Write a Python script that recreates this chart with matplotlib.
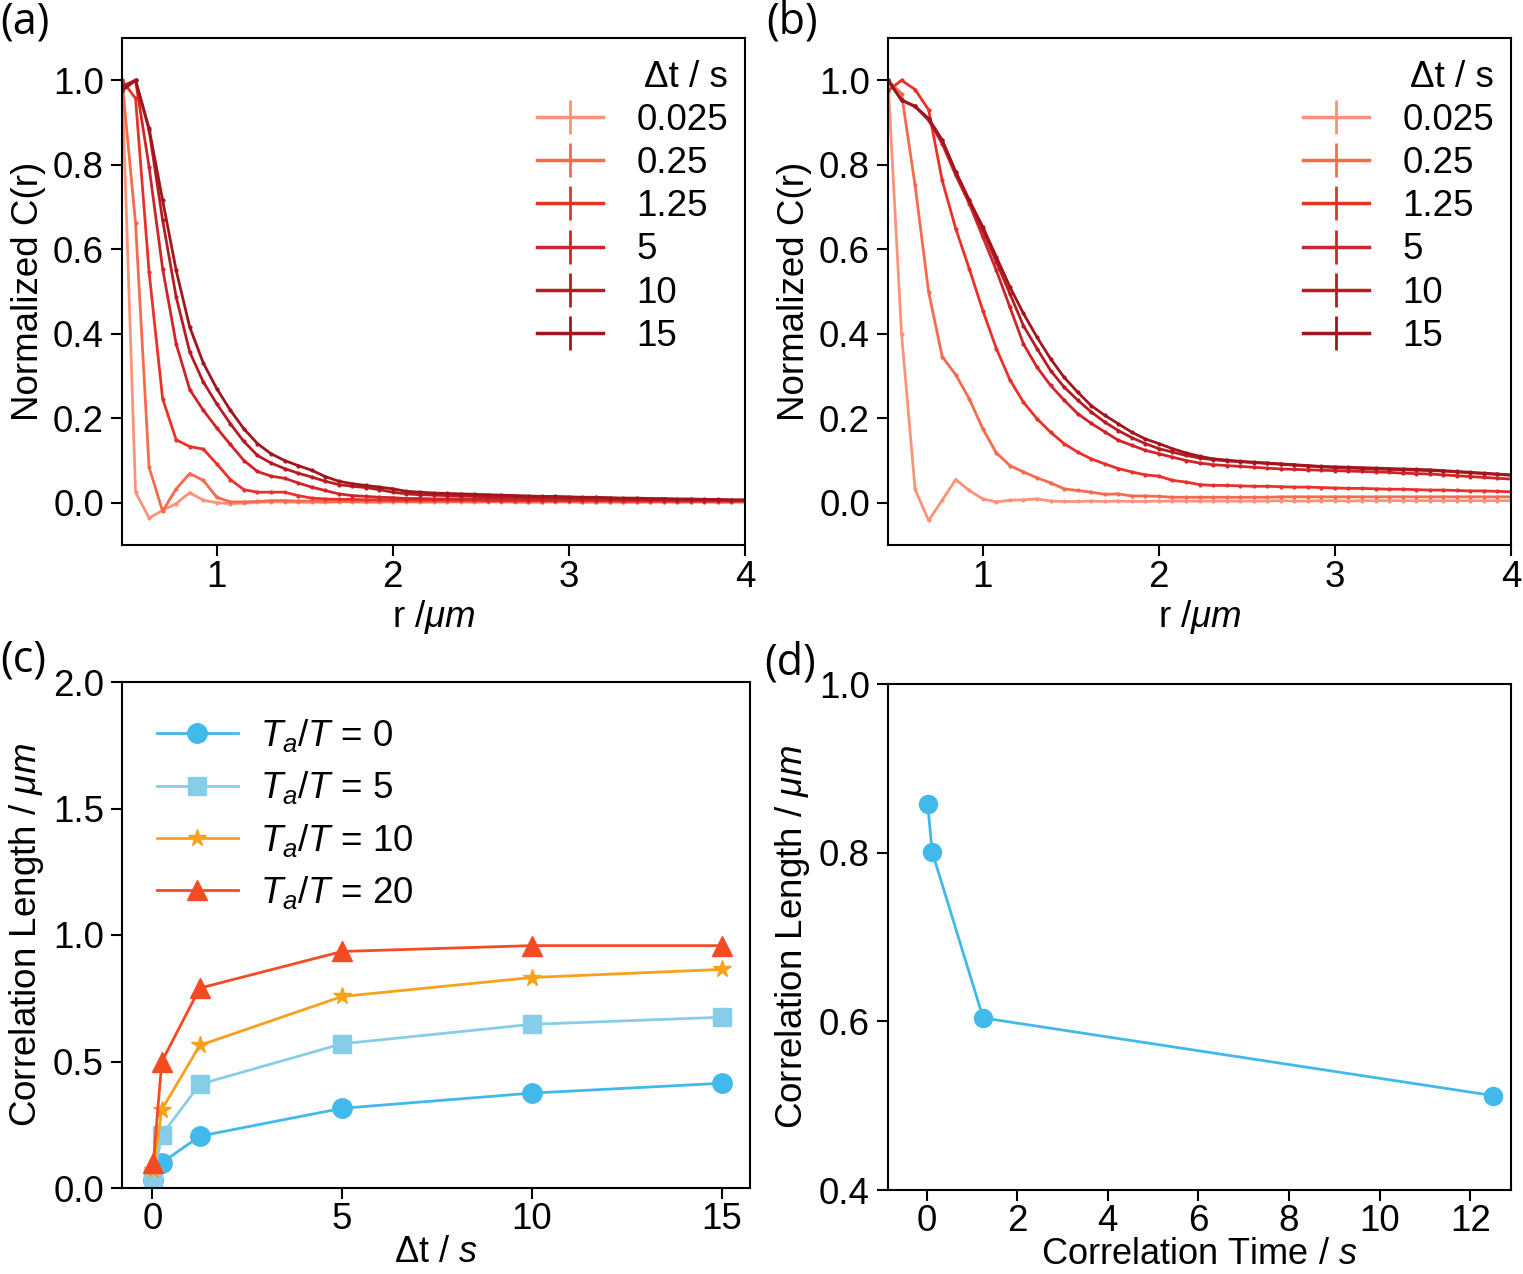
import numpy as np
import matplotlib
matplotlib.use("Agg")
import matplotlib.pyplot as plt
from matplotlib.lines import Line2D

plt.rcParams['font.family'] = ['Liberation Sans', 'DejaVu Sans']
plt.rcParams['mathtext.fontset'] = 'custom'
plt.rcParams['mathtext.rm'] = 'Liberation Sans'
plt.rcParams['mathtext.it'] = 'Liberation Sans:italic'
plt.rcParams['mathtext.bf'] = 'Liberation Sans:bold'
FS = 26.5
plt.rcParams['font.size'] = FS

# ---------------- data ----------------
r_um = np.arange(6, 53) / 13.0          # radial bins (µm)
dt_labels = ['0.025', '0.25', '1.25', '5', '10', '15']
dt_colors = ['#fa9479', '#f66a4e', '#ea3128', '#d0242a', '#b81c22', '#9f161c']

a_0025 = [1.0, 0.025, -0.036, -0.018, -0.002, 0.024, 0.006, 0.0, -0.002, -0.001, 0.001, 0.002,
          0.002, 0.001, 0.001, 0.001, 0.002, 0.002, 0.001, 0.001, 0.002, 0.002, 0.001, 0.001,
          0.002, 0.002, 0.001, 0.002, 0.002, 0.001, 0.001, 0.002, 0.002, 0.002, 0.001, 0.002,
          0.002, 0.001, 0.001, 0.002, 0.002, 0.001, 0.002, 0.002, 0.001, 0.001, 0.002]
a_025 = [1.0, 0.662, 0.084, -0.02, 0.033, 0.069, 0.053, 0.013, 0.002, 0.002, 0.003, 0.005,
         0.005, 0.004, 0.004, 0.003, 0.003, 0.003, 0.003, 0.003, 0.003, 0.003, 0.003, 0.003,
         0.003, 0.003, 0.003, 0.003, 0.003, 0.003, 0.002, 0.002, 0.003, 0.003, 0.002, 0.002,
         0.002, 0.002, 0.002, 0.002, 0.002, 0.002, 0.002, 0.002, 0.002, 0.002, 0.002]
a_125 = [1.0, 0.957, 0.546, 0.246, 0.149, 0.133, 0.127, 0.092, 0.055, 0.031, 0.025, 0.025,
         0.025, 0.017, 0.011, 0.009, 0.008, 0.008, 0.007, 0.007, 0.006, 0.006, 0.006, 0.006,
         0.006, 0.006, 0.006, 0.005, 0.005, 0.005, 0.005, 0.005, 0.005, 0.005, 0.005, 0.005,
         0.005, 0.004, 0.004, 0.004, 0.004, 0.004, 0.004, 0.004, 0.004, 0.004, 0.004]
a_5 = [0.985, 1.0, 0.795, 0.554, 0.376, 0.268, 0.219, 0.177, 0.138, 0.100, 0.074, 0.063,
       0.058, 0.047, 0.037, 0.029, 0.021, 0.017, 0.015, 0.013, 0.012, 0.010, 0.010, 0.009,
       0.009, 0.009, 0.008, 0.008, 0.008, 0.008, 0.007, 0.007, 0.007, 0.007, 0.007, 0.006,
       0.006, 0.006, 0.006, 0.006, 0.005, 0.005, 0.005, 0.005, 0.005, 0.005, 0.005]
a_10 = [0.985, 1.0, 0.882, 0.669, 0.487, 0.357, 0.286, 0.234, 0.187, 0.145, 0.112, 0.094,
        0.081, 0.070, 0.061, 0.051, 0.043, 0.039, 0.036, 0.031, 0.025, 0.021, 0.019, 0.018,
        0.017, 0.016, 0.015, 0.014, 0.013, 0.013, 0.012, 0.012, 0.011, 0.011, 0.010, 0.010,
        0.009, 0.009, 0.008, 0.008, 0.008, 0.007, 0.007, 0.007, 0.006, 0.006, 0.006]
a_15 = [0.975, 1.0, 0.886, 0.716, 0.55, 0.416, 0.331, 0.27, 0.219, 0.175, 0.14, 0.116,
        0.1, 0.088, 0.077, 0.062, 0.051, 0.045, 0.041, 0.037, 0.033, 0.027, 0.025, 0.023,
        0.022, 0.021, 0.020, 0.019, 0.018, 0.017, 0.016, 0.015, 0.015, 0.014, 0.013, 0.013,
        0.012, 0.011, 0.011, 0.010, 0.010, 0.009, 0.009, 0.008, 0.008, 0.007, 0.007]

b_0025 = [1.0, 0.40, 0.032, -0.042, 0.006, 0.055, 0.029, 0.009, 0.002, 0.006, 0.007, 0.009,
          0.004, 0.003, 0.003, 0.004, 0.003, 0.004, 0.003, 0.003, 0.004, 0.004, 0.004, 0.004,
          0.004, 0.004, 0.004, 0.004, 0.004, 0.005, 0.004, 0.004, 0.005, 0.005, 0.004, 0.005,
          0.005, 0.005, 0.005, 0.005, 0.005, 0.005, 0.005, 0.005, 0.005, 0.005, 0.005]
b_025 = [1.0, 0.968, 0.751, 0.499, 0.346, 0.303, 0.246, 0.175, 0.118, 0.088, 0.073, 0.059,
         0.047, 0.033, 0.029, 0.025, 0.020, 0.021, 0.016, 0.016, 0.015, 0.013, 0.013, 0.013,
         0.013, 0.013, 0.013, 0.013, 0.013, 0.014, 0.014, 0.014, 0.014, 0.014, 0.014, 0.014,
         0.014, 0.014, 0.014, 0.014, 0.014, 0.014, 0.014, 0.014, 0.014, 0.014, 0.014]
b_125 = [0.975, 1.0, 0.978, 0.93, 0.763, 0.649, 0.554, 0.455, 0.365, 0.291, 0.238, 0.199,
         0.167, 0.14, 0.12, 0.104, 0.092, 0.081, 0.073, 0.066, 0.063, 0.053, 0.049, 0.043,
         0.041, 0.041, 0.040, 0.039, 0.039, 0.038, 0.037, 0.037, 0.036, 0.035, 0.034, 0.034,
         0.033, 0.032, 0.032, 0.031, 0.030, 0.030, 0.029, 0.028, 0.028, 0.027, 0.026]
b_5 = [1.0, 0.953, 0.938, 0.905, 0.85, 0.775, 0.708, 0.629, 0.55, 0.463, 0.376, 0.321,
       0.278, 0.243, 0.211, 0.188, 0.168, 0.148, 0.136, 0.124, 0.116, 0.108, 0.1, 0.094,
       0.09, 0.088, 0.086, 0.084, 0.082, 0.080, 0.079, 0.078, 0.077, 0.076, 0.075, 0.074,
       0.073, 0.072, 0.070, 0.069, 0.068, 0.066, 0.064, 0.062, 0.060, 0.058, 0.056]
b_10 = [1.0, 0.953, 0.938, 0.909, 0.858, 0.783, 0.716, 0.645, 0.57, 0.495, 0.419, 0.365,
        0.313, 0.274, 0.243, 0.215, 0.191, 0.171, 0.154, 0.14, 0.128, 0.12, 0.112, 0.106,
        0.102, 0.099, 0.097, 0.095, 0.093, 0.091, 0.089, 0.087, 0.085, 0.083, 0.082, 0.081,
        0.080, 0.079, 0.078, 0.077, 0.076, 0.075, 0.073, 0.071, 0.069, 0.067, 0.065]
b_15 = [1.0, 0.953, 0.938, 0.909, 0.858, 0.783, 0.716, 0.653, 0.582, 0.511, 0.448, 0.392,
        0.341, 0.297, 0.262, 0.23, 0.207, 0.187, 0.167, 0.151, 0.14, 0.128, 0.118, 0.11,
        0.104, 0.101, 0.098, 0.096, 0.094, 0.092, 0.090, 0.088, 0.086, 0.085, 0.084, 0.083,
        0.082, 0.081, 0.080, 0.079, 0.078, 0.076, 0.074, 0.072, 0.070, 0.068, 0.066]

panel_a = [a_0025, a_025, a_125, a_5, a_10, a_15]
panel_b = [b_0025, b_025, b_125, b_5, b_10, b_15]

# panel (c)
dt_s = [0.025, 0.25, 1.25, 5, 10, 15]
ratio_labels = ['$T_a/T$ = 0', '$T_a/T$ = 5', '$T_a/T$ = 10', '$T_a/T$ = 20']
corr_len_0 = [0.03, 0.10, 0.205, 0.315, 0.375, 0.414]
corr_len_5 = [0.04, 0.21, 0.41, 0.57, 0.647, 0.675]
corr_len_10 = [0.07, 0.31, 0.564, 0.757, 0.832, 0.864]
corr_len_20 = [0.10, 0.50, 0.79, 0.935, 0.958, 0.958]
c_series = [corr_len_0, corr_len_5, corr_len_10, corr_len_20]
c_colors = ['#41b9ea', '#87cdea', '#f8a11b', '#f34b22']
c_markers = ['o', 's', '*', '^']
c_msizes = [14, 13, 13, 14]

# panel (d)
corr_time = [0.025, 0.125, 1.25, 12.5]
corr_len_d = [0.858, 0.801, 0.604, 0.512]

# ---------------- figure ----------------
fig = plt.figure(figsize=(15.23, 12.74), dpi=100)
W, H = 1523, 1274

def add_ax(l, r, t, b):
    return fig.add_axes([l / W, 1 - b / H, (r - l) / W, (b - t) / H])

axA = add_ax(122, 745, 38, 545)
axB = add_ax(888, 1511, 38, 545)
axC = add_ax(122, 750, 682, 1188)
axD = add_ax(888, 1511, 684, 1190)

for ax in (axA, axB, axC, axD):
    ax.tick_params(direction='out', length=8, width=1.5, pad=5, labelsize=FS)
    ax.tick_params(axis='x', pad=3)
    for s in ax.spines.values():
        s.set_linewidth(1.5)
for ax in (axC, axD):
    ax.tick_params(axis='x', pad=2)

for ax, series in ((axA, panel_a), (axB, panel_b)):
    for vals, col in zip(series, dt_colors):
        ax.plot(r_um, vals, color=col, lw=2, marker='.', ms=4)
    ax.set_xlim(r_um[0], 4)
    ax.set_ylim(-0.1, 1.1)
    ax.set_xticks([1, 2, 3, 4])
    ax.set_yticks([0.0, 0.2, 0.4, 0.6, 0.8, 1.0])
    ax.set_yticklabels(['0.0', '0.2', '0.4', '0.6', '0.8', '1.0'])
    ax.set_xlabel('r /$\\mu m$', fontsize=FS, labelpad=2)
    ax.set_ylabel('Normalized C(r)', fontsize=FS, labelpad=5)
    handles = [Line2D([], [], color=c, lw=2.5, marker='|', ms=24, mew=2) for c in dt_colors]
    ax.legend(handles, dt_labels, title='Δt / s', loc='upper right', frameon=False,
              fontsize=FS, title_fontsize=FS, labelspacing=0.22, handlelength=1.8,
              handletextpad=0.9, borderaxespad=0.2, alignment='right',
              bbox_to_anchor=(1.008, 1.0))

for vals, col, mk, ms, lab in zip(c_series, c_colors, c_markers, c_msizes, ratio_labels):
    axC.plot(dt_s, vals, color=col, lw=2, marker=mk, ms=ms, label=lab)
axC.set_xlim(-0.8, 15.75)
axC.set_ylim(0, 2.0)
axC.set_xticks([0, 5, 10, 15])
axC.set_yticks([0.0, 0.5, 1.0, 1.5, 2.0])
axC.set_yticklabels(['0.0', '0.5', '1.0', '1.5', '2.0'])
axC.set_xlabel('Δt / $s$', fontsize=26, labelpad=-1)
axC.set_ylabel('Correlation Length / $\\mu m$', fontsize=FS, labelpad=5)
axC.legend(loc='upper left', frameon=False, fontsize=FS, labelspacing=0.42,
           handlelength=2.2, handletextpad=0.6, borderaxespad=0.55,
           bbox_to_anchor=(0.0, 1.0))

axD.plot(corr_time, corr_len_d, color='#41b9ea', lw=2, marker='o', ms=13)
axD.set_xlim(-0.85, 12.9)
axD.set_ylim(0.4, 1.0)
axD.set_xticks([0, 2, 4, 6, 8, 10, 12])
axD.set_yticks([0.4, 0.6, 0.8, 1.0])
axD.set_yticklabels(['0.4', '0.6', '0.8', '1.0'])
axD.set_xlabel('Correlation Time / $s$', fontsize=26, labelpad=-1)
axD.set_ylabel('Correlation Length / $\\mu m$', fontsize=FS, labelpad=5)

lab_font = ['Open Sans', 'DejaVu Sans']
fig.text(0 / W, 1 - 0 / H, '(a)', fontsize=31, va='top', ha='left', family=lab_font)
fig.text(766 / W, 1 - 0 / H, '(b)', fontsize=31, va='top', ha='left', family=lab_font)
fig.text(0 / W, 1 - 638 / H, '(c)', fontsize=31, va='top', ha='left', family=lab_font)
fig.text(764 / W, 1 - 641 / H, '(d)', fontsize=31, va='top', ha='left', family=lab_font)

fig.savefig('out.png', dpi=100)
